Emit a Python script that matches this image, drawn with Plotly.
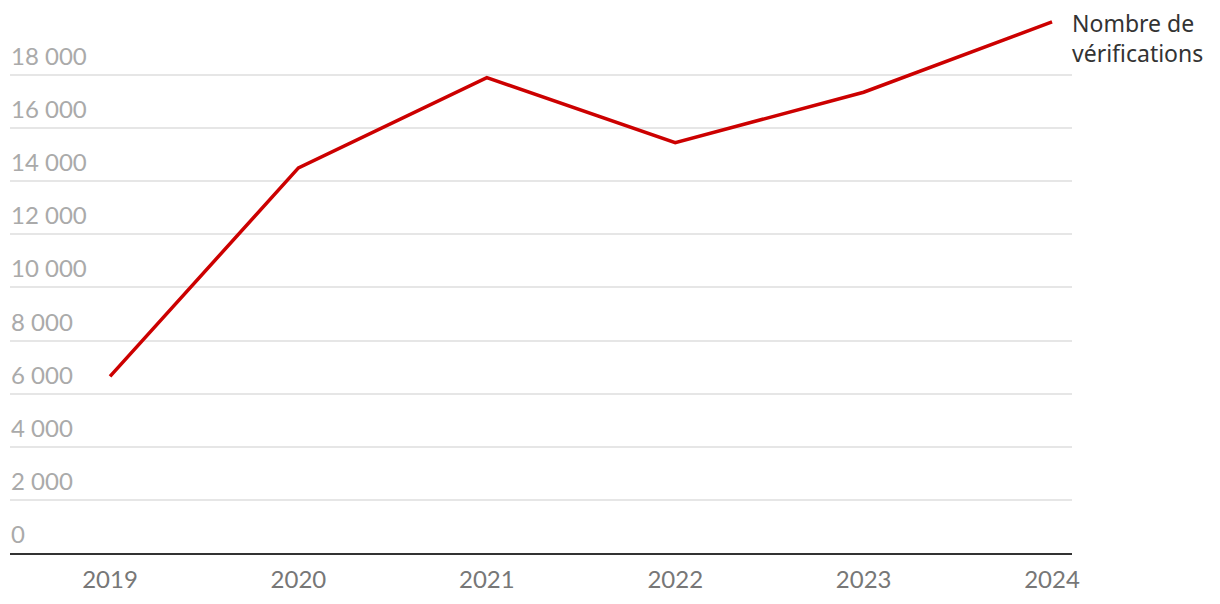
import plotly.graph_objects as go

years = [2019, 2020, 2021, 2022, 2023, 2024]
verifications = [6650, 14500, 17900, 15450, 17350, 20000]
series_name = "Nombre de<br>vérifications"
y_ticks = [0, 2000, 4000, 6000, 8000, 10000, 12000, 14000, 16000, 18000]
y_tick_labels = ["0", "2 000", "4 000", "6 000", "8 000", "10 000", "12 000", "14 000", "16 000", "18 000"]

fig = go.Figure()
fig.add_trace(go.Scatter(
    x=years, y=verifications, mode="lines",
    line=dict(color="#cc0000", width=3.5),
    cliponaxis=False, showlegend=False, hoverinfo="x+y",
))

annotations = []
for v, lab in zip(y_ticks, y_tick_labels):
    annotations.append(dict(
        x=0, xref="paper", y=v, yref="y", text=lab, showarrow=False,
        xanchor="left", yanchor="bottom", yshift=3, xshift=-1,
        font=dict(family="Lato, Noto Sans, sans-serif", size=24, color="#aaaaaa"),
    ))
annotations.append(dict(
    x=years[-1], y=verifications[-1], xref="x", yref="y", text=series_name,
    showarrow=False, xanchor="left", yanchor="middle", xshift=18, yshift=-16,
    align="left",
    font=dict(family="Noto Sans, sans-serif", size=23, color="#333333"),
))

fig.update_layout(
    width=1204, height=588,
    margin=dict(l=2, r=140, t=1, b=43),
    paper_bgcolor="white", plot_bgcolor="white",
    annotations=annotations,
    xaxis=dict(
        range=[2018.469, 2024.106], tickmode="array", tickvals=years,
        ticktext=[str(y) for y in years], showgrid=False, zeroline=False,
        showline=True, linecolor="#333333", linewidth=2,
        ticks="", ticklabelstandoff=4,
        tickfont=dict(family="Lato, Noto Sans, sans-serif", size=24, color="#777777"),
    ),
    yaxis=dict(
        range=[0, 20485], tickmode="array", tickvals=y_ticks, showticklabels=False,
        showgrid=True, gridcolor="#e6e6e6", gridwidth=1.5, zeroline=False,
    ),
)

fig.write_html("out.html")
